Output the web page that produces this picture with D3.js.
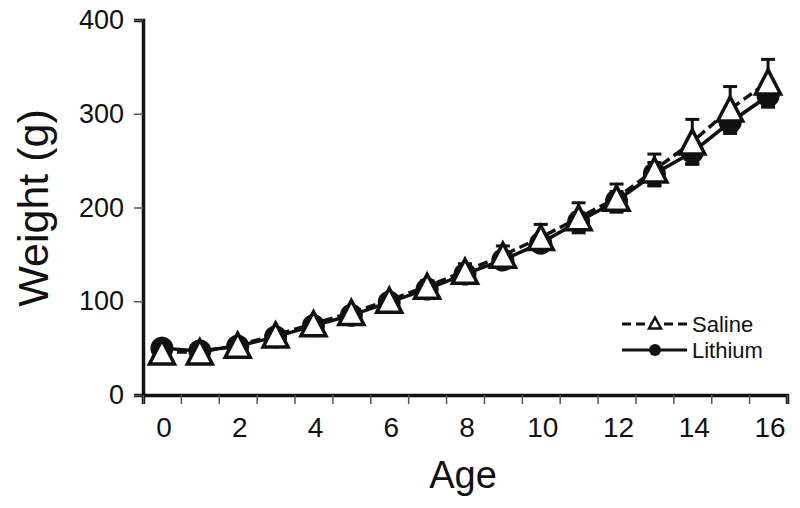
<!DOCTYPE html>
<html>
<head>
<meta charset="utf-8">
<script src="https://cdn.jsdelivr.net/npm/d3@7"></script>
<style>
  body { margin: 0; background: #fff; }
  text { font-family: "Liberation Sans", Arial, sans-serif; fill: #111; }
</style>
</head>
<body>
<div id="chart"></div>
<script>
// values
const ages = [0, 1, 2, 3, 4, 5, 6, 7, 8, 9, 10, 11, 12, 13, 14, 15, 16];
const saline = [46, 46, 53, 64, 76, 88, 101, 116, 132, 149, 168, 189, 210, 240, 270, 305, 334];
const salineSE = [3, 3, 3, 3, 4, 5, 5, 6, 8, 10, 14, 16, 15, 17, 24, 24, 24];
const lithium = [50, 47, 52, 62, 74, 85, 99, 113, 129, 144, 162, 185, 207, 236, 259, 291, 319];
const lithiumSE = [2, 2, 2, 2, 3, 3, 4, 4, 5, 6, 8, 9, 10, 12, 12, 12, 12];
const yTicks = [0, 100, 200, 300, 400];
const seriesNames = ["Saline", "Lithium"];

const width = 800, height = 508;
const margin = { top: 20, right: 13, bottom: 113, left: 143 };
const innerW = width - margin.left - margin.right;
const innerH = height - margin.top - margin.bottom;

const svg = d3.select("#chart").append("svg")
  .attr("width", width).attr("height", height);

const g = svg.append("g")
  .attr("transform", `translate(${margin.left},${margin.top})`);

const x = d3.scaleBand().domain(ages).range([0, innerW]).padding(0);
const xTickScale = d3.scaleLinear().domain([0, ages.length]).range([0, innerW]);
const y = d3.scaleLinear().domain([0, 400]).range([innerH, 0]);
const cx = (d) => x(d) + x.bandwidth() / 2;

// y axis
const yAxis = g.append("g")
  .call(d3.axisLeft(y).tickValues(yTicks).tickSize(9).tickPadding(10));
yAxis.select(".domain").attr("stroke", "#111").attr("stroke-width", 3.5);
yAxis.selectAll(".tick line").attr("stroke", "#555").attr("stroke-width", 1.5);
yAxis.selectAll(".tick text").style("font-size", "27px").attr("fill", "#111");

// x axis: tick marks between categories
const xTicks = g.append("g")
  .attr("transform", `translate(0,${innerH})`)
  .call(d3.axisBottom(xTickScale).ticks(ages.length).tickSize(9).tickFormat(""));
xTicks.select(".domain").attr("stroke", "#111").attr("stroke-width", 3.5);
xTicks.selectAll(".tick line").attr("stroke", "#555").attr("stroke-width", 1.5);

// x axis labels at category centres, every other age
const xLabels = g.append("g")
  .attr("transform", `translate(2,${innerH})`)
  .call(d3.axisBottom(x).tickSize(0).tickPadding(22)
    .tickFormat((d) => (d % 2 === 0 ? d : "")));
xLabels.select(".domain").remove();
xLabels.selectAll(".tick text").style("font-size", "28px").attr("fill", "#111");

// axis titles
svg.append("text")
  .attr("transform", "translate(48,208) rotate(-90)")
  .attr("text-anchor", "middle")
  .style("font-size", "43px")
  .text("Weight (g)");

svg.append("text")
  .attr("x", 463).attr("y", 488)
  .attr("text-anchor", "middle")
  .style("font-size", "38px")
  .text("Age");

// error bars
function errorBars(vals, se, cls) {
  const eb = g.append("g").attr("class", cls)
    .attr("stroke", "#111").attr("stroke-width", 3);
  ages.forEach((a, i) => {
    eb.append("line")
      .attr("x1", cx(a)).attr("x2", cx(a))
      .attr("y1", y(vals[i] - se[i])).attr("y2", y(vals[i] + se[i]));
    [vals[i] - se[i], vals[i] + se[i]].forEach((v) => {
      eb.append("line")
        .attr("x1", cx(a) - 7).attr("x2", cx(a) + 7)
        .attr("y1", y(v)).attr("y2", y(v));
    });
  });
}
errorBars(saline, salineSE, "saline-err");
errorBars(lithium, lithiumSE, "lithium-err");

const line = d3.line().x((d, i) => cx(ages[i])).y((d) => y(d));

// lithium: solid line, filled circles
g.append("path").datum(lithium)
  .attr("d", line).attr("fill", "none")
  .attr("stroke", "#111").attr("stroke-width", 3.5);
g.selectAll(".lith").data(lithium).join("circle")
  .attr("class", "lith")
  .attr("cx", (d, i) => cx(ages[i])).attr("cy", (d) => y(d))
  .attr("r", 11.5).attr("fill", "#111");

// saline: dashed line, open triangles
g.append("path").datum(saline)
  .attr("d", line).attr("fill", "none")
  .attr("stroke", "#111").attr("stroke-width", 3.5)
  .attr("stroke-dasharray", "10,5");

function triPath(w, h) {
  return `M0,${-h / 2}L${w / 2},${h / 2}L${-w / 2},${h / 2}Z`;
}
g.selectAll(".sal").data(saline).join("path")
  .attr("class", "sal")
  .attr("d", triPath(25, 24))
  .attr("transform", (d, i) => `translate(${cx(ages[i])},${y(d)})`)
  .attr("fill", "#fff").attr("stroke", "#111").attr("stroke-width", 3.5)
  .attr("stroke-linejoin", "miter");

// legend
const legend = svg.append("g").attr("transform", "translate(622,324)");
seriesNames.forEach((name, i) => {
  const row = legend.append("g").attr("transform", `translate(0,${i * 26})`);
  row.append("line")
    .attr("x1", 0).attr("x2", 65).attr("y1", 0).attr("y2", 0)
    .attr("stroke", "#111").attr("stroke-width", 3)
    .attr("stroke-dasharray", i === 0 ? "9,5" : null);
  if (i === 0) {
    row.append("path").attr("d", triPath(12, 11))
      .attr("transform", "translate(33,-1)")
      .attr("fill", "#fff").attr("stroke", "#111").attr("stroke-width", 2.5);
  } else {
    row.append("circle").attr("cx", 33).attr("cy", 0).attr("r", 6).attr("fill", "#111");
  }
  row.append("text")
    .attr("x", 70).attr("y", 0).attr("dy", "0.35em")
    .style("font-size", "22px")
    .text(name);
});
</script>
</body>
</html>
